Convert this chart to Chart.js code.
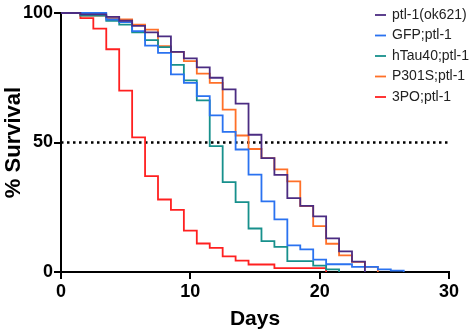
<!DOCTYPE html>
<html>
<head>
<meta charset="utf-8">
<title>% Survival</title>
<script src="https://cdn.jsdelivr.net/npm/chart.js"></script>
<style>
  body { margin: 0; background: #fff; }
  #survivalChart { display: block; }
</style>
</head>
<body>
<canvas id="survivalChart" width="470" height="336"></canvas>
<script>
// survival steps (day of drop, % alive after it)
const ok621Days = [0, 1.5, 3.5, 4.5, 5.5, 6.5, 7.5, 8.5, 9.5, 10.5, 11.5, 12.5, 13.5, 14.5, 15.5, 16.5, 17.5, 18.5, 19.5, 20.5, 21.5, 22.5, 23.5];
const ok621Surv = [100, 99.5, 98.5, 97, 95, 92.5, 91, 85, 82.5, 79, 75, 70.5, 65, 53, 44, 37.5, 28.5, 25.5, 21.5, 13, 8, 4, 0];

const gfpDays = [0, 3.5, 4.5, 5.5, 6.5, 7.5, 8.5, 9.5, 10.5, 11.5, 12.5, 13.5, 14.5, 15.5, 16.5, 17.5, 18.5, 19.5, 20.5, 22.5, 24.5, 25.5, 26.5];
const gfpSurv = [100, 97.5, 96.5, 93, 87.4, 84.6, 76.3, 73, 67.9, 60.5, 54.1, 47.3, 37.6, 27.3, 20.3, 10.3, 8.7, 4.8, 3, 2, 1, 0.5, 0];

const htauDays = [0, 1.5, 3.5, 4.5, 5.5, 6.5, 7.5, 8.5, 9.5, 10.5, 11.5, 12.5, 13.5, 14.5, 15.5, 16.5, 17.5, 19.5, 20.5, 21.5];
const htauSurv = [100, 99, 97, 95.5, 92.5, 89.5, 86.8, 80, 74, 66.3, 48.6, 34.7, 27, 16.8, 11.9, 9.7, 4.2, 2.5, 1, 0];

const p301sDays = [0, 1.5, 3.5, 4.5, 5.5, 6.5, 7.5, 8.5, 9.5, 10.5, 11.5, 12.5, 13.5, 14.5, 15.5, 16.5, 17.5, 18.5, 19.5, 20.5, 21.5, 22.5, 23.5, 24.5];
const p301sSurv = [100, 99, 98, 97.5, 95.5, 93.6, 87.2, 85, 81.4, 76.6, 73, 62.7, 52.7, 47.5, 44, 39.6, 35, 25.4, 17.7, 10.9, 6.4, 3.9, 2, 0];

const tpoDays = [0, 1.5, 2.5, 3.5, 4.5, 5.5, 6.5, 7.5, 8.5, 9.5, 10.5, 11.5, 12.5, 13.5, 14.5, 16.5, 20.5];
const tpoSurv = [100, 98, 94, 86, 70, 52, 37, 28, 24, 16, 11, 9.3, 6, 4.4, 2.9, 1.5, 0];

const xTicks = [0, 10, 20, 30];
const yTicks = [0, 50, 100];
const medianLine = 50;

function toPoints(days, surv) {
    return days.map((d, i) => ({ x: d, y: surv[i] }));
}

function curve(label, days, surv, color) {
    return {
        label: label,
        data: toPoints(days, surv),
        borderColor: color,
        backgroundColor: color,
        borderWidth: 1.8,
        stepped: true,
        pointRadius: 0,
        fill: false,
        clip: false
    };
}

// legend sits inside the plot, top right
const insideLegend = {
    id: 'insideLegend',
    afterDatasetsDraw(chart) {
        const ctx = chart.ctx;
        const left = chart.chartArea.right - 74;
        ctx.save();
        ctx.font = '14px "Liberation Sans", Arial, sans-serif';
        ctx.textBaseline = 'middle';
        chart.data.datasets.forEach((ds, i) => {
            if (!ds.label) return;
            const y = chart.chartArea.top + 2 + i * 20.5;
            ctx.strokeStyle = ds.borderColor;
            ctx.lineWidth = 1.8;
            ctx.beginPath();
            ctx.moveTo(left, y);
            ctx.lineTo(left + 11, y);
            ctx.stroke();
            ctx.fillStyle = '#222';
            ctx.fillText(ds.label, left + 17, y);
        });
        ctx.restore();
    }
};

Chart.defaults.font.family = '"Liberation Sans", Arial, sans-serif';
Chart.defaults.color = '#000';

const ctx = document.getElementById('survivalChart').getContext('2d');
new Chart(ctx, {
    type: 'line',
    data: {
        datasets: [
            curve('ptl-1(ok621)', ok621Days, ok621Surv, '#4b2c82'),
            curve('GFP;ptl-1', gfpDays, gfpSurv, '#2a72f0'),
            curve('hTau40;ptl-1', htauDays, htauSurv, '#17908c'),
            curve('P301S;ptl-1', p301sDays, p301sSurv, '#ff7028'),
            curve('3PO;ptl-1', tpoDays, tpoSurv, '#ff2020'),
            {
                label: '',
                data: [{ x: xTicks[0], y: medianLine }, { x: xTicks[xTicks.length - 1], y: medianLine }],
                borderColor: '#000',
                borderWidth: 2.5,
                borderDash: [2.5, 3.5],
                pointRadius: 0,
                fill: false
            }
        ]
    },
    options: {
        responsive: false,
        animation: false,
        layout: { padding: { top: 13, right: 21, left: 0, bottom: 0 } },
        plugins: {
            legend: { display: false },
            tooltip: { enabled: false }
        },
        scales: {
            x: {
                type: 'linear',
                min: xTicks[0],
                max: xTicks[xTicks.length - 1],
                afterBuildTicks: s => { s.ticks = xTicks.map(v => ({ value: v })); },
                ticks: { color: '#000', font: { size: 18, weight: 'bold' }, padding: 2, maxRotation: 0 },
                grid: { drawOnChartArea: false, color: '#000', lineWidth: 2, tickLength: 7 },
                border: { color: '#000', width: 2 },
                title: { display: true, text: 'Days', color: '#000', font: { size: 21, weight: 'bold' } },
                afterFit: s => { s.height = 64; }
            },
            y: {
                min: yTicks[0],
                max: yTicks[yTicks.length - 1],
                afterBuildTicks: s => { s.ticks = yTicks.map(v => ({ value: v })); },
                ticks: { color: '#000', font: { size: 18, weight: 'bold' }, padding: 1 },
                grid: { drawOnChartArea: false, color: '#000', lineWidth: 2, tickLength: 7 },
                border: { color: '#000', width: 2 },
                title: { display: true, text: '% Survival', color: '#000', font: { size: 22, weight: 'bold' }, padding: { top: 1, bottom: 0 } },
                afterFit: s => { s.width = 61; }
            }
        }
    },
    plugins: [insideLegend]
});
</script>
</body>
</html>
